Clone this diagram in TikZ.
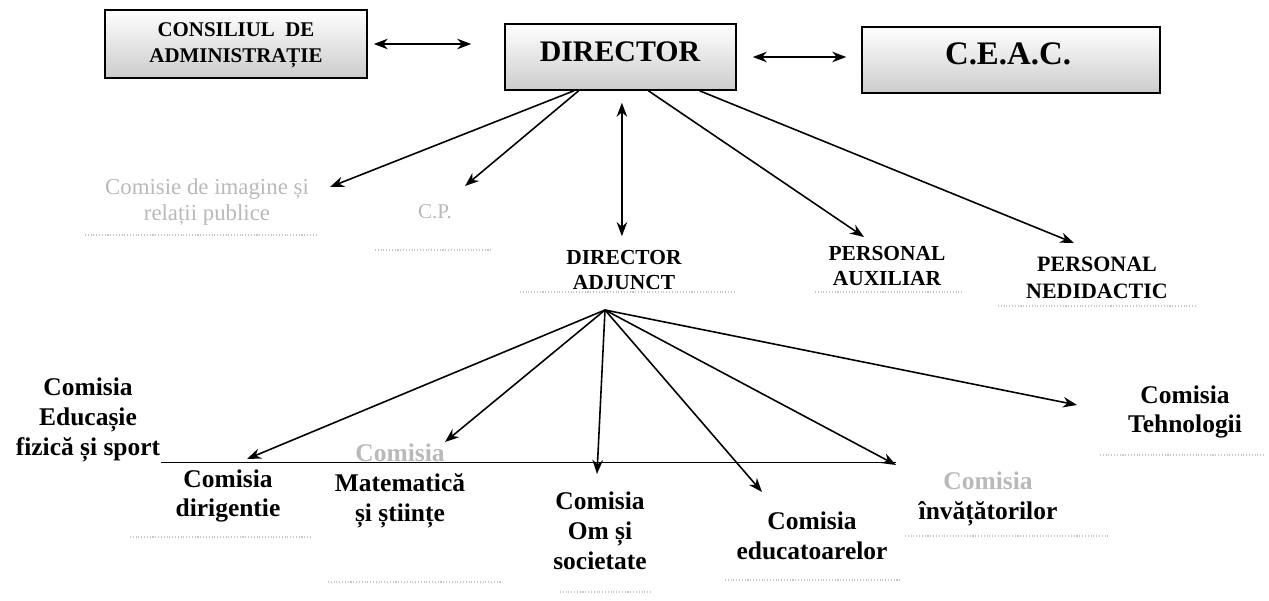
\documentclass[tikz,border=0pt]{standalone}
\usepackage{fontspec}
\setmainfont{Liberation Serif}
\usetikzlibrary{arrows.meta,calc}

\tikzset{
  box/.style={draw,line width=0.9pt,top color=white,middle color=white,bottom color=gray!40,inner sep=0pt},
  link/.style={line width=0.9pt,-{Stealth[length=8pt,width=6pt]}},
  dlink/.style={line width=0.9pt,{Stealth[length=8pt,width=6pt]}-{Stealth[length=8pt,width=6pt]}},
  underl/.style={gray!45,line width=0.6pt,densely dotted},
  pale/.style={text=gray!55},
  upper/.style={align=center,inner sep=0pt,font=\bfseries\fontsize{12.2}{14}\selectfont},
  lower/.style={align=center,inner sep=0pt,font=\bfseries\fontsize{14.5}{17}\selectfont},
}

\begin{document}
\begin{tikzpicture}[x=0.02cm,y=-0.02cm]
  \useasboundingbox (0,0) rectangle (1269,601);

  % first row
  \node[box,minimum width=5.24cm,minimum height=1.36cm] (cons) at (236,44) {};
  \node[upper,font=\bfseries\fontsize{11.9}{14.7}\selectfont] (consT) at (236,45) {CONSILIUL\ \ DE\\ADMINISTRAȚIE};
  \node[box,minimum width=4.62cm,minimum height=1.32cm] (dir) at (620.5,57) {};
  \node[upper,font=\bfseries\fontsize{17}{20}\selectfont] (dirT) at (620,52) {DIRECTOR};
  \node[box,minimum width=5.96cm,minimum height=1.32cm] (ceac) at (1011,60) {};
  \node[upper,font=\bfseries\fontsize{18.7}{22}\selectfont] (ceacT) at (1008,54) {C.E.A.C.};

  \draw[dlink,shorten <=0.12cm,shorten >=0.66cm] (cons.east) -- (cons.east -| dir.west);
  \draw[dlink,shorten <=0.32cm,shorten >=0.3cm] (dir.east) -- (dir.east -| ceac.west);

  % second row
  \node[upper,pale,font=\fontsize{13}{14.5}\selectfont] (imag) at (207,202) {Comisie de imagine și\\relații publice};
  \node[upper,pale,font=\fontsize{12}{14}\selectfont] (cp) at (435,212) {C.P.};
  \node[upper] (adj) at (624,270) {DIRECTOR\\ADJUNCT};
  \node[upper] (aux) at (887,266) {PERSONAL\\AUXILIAR};
  \node[upper,font=\bfseries\fontsize{12.5}{15}\selectfont] (nedid) at (1097,278) {PERSONAL\\NEDIDACTIC};

  \draw[underl] (85,235) -- (317,235);
  \draw[underl] (375,250) -- (493,250);
  \draw[underl] (520,292) -- (735,292);
  \draw[underl] (815,292) -- (962,292);
  \draw[underl] (998,306) -- (1197,306);

  \coordinate (d1) at ($(dir.south west)!0.30!(dir.south east)$);
  \coordinate (d2) at ($(dir.south west)!0.32!(dir.south east)$);
  \coordinate (d3) at ($(dir.south west)!0.506!(dir.south east)$);
  \coordinate (d4) at ($(dir.south west)!0.62!(dir.south east)$);
  \coordinate (d5) at ($(dir.south west)!0.84!(dir.south east)$);
  \coordinate (imagTip) at (330,187);
  \coordinate (cpTip) at (465,186);
  \coordinate (auxTip) at (864,237);
  \coordinate (nedidTip) at (1074,243);

  \draw[link] (d1) -- (imagTip);
  \draw[link] (d2) -- (cpTip);
  \draw[dlink,shorten <=0.24cm,shorten >=0.28cm] (d3) -- (d3 |- adj.north);
  \draw[link] (d4) -- (auxTip);
  \draw[link] (d5) -- (nedidTip);

  % third row
  \node[lower] (sport) at (88,420) {Comisia\\Educașie\\fizică și sport};
  \node[lower] (dirig) at (228,496) {Comisia\\dirigentie};
  \node[lower] (mate) at (400,486) {\textcolor{gray!55}{Comisia}\\Matematică\\și științe};
  \node[lower] (om) at (600,531) {Comisia\\Om și\\societate};
  \node[lower] (educ) at (812,536) {Comisia\\educatoarelor};
  \node[lower] (inv) at (988,499) {\textcolor{gray!55}{Comisia}\\învățătorilor};
  \node[lower] (tehno) at (1185,412) {Comisia\\Tehnologii};

  \draw[underl] (130,537) -- (310,537);
  \draw[underl] (328,582) -- (502,582);
  \draw[underl] (560,592) -- (650,592);
  \draw[underl] (725,580) -- (900,580);
  \draw[underl] (905,536) -- (1110,536);
  \draw[underl] (1100,455) -- (1265,455);

  \coordinate (a0) at (605,310);
  \coordinate (sportTip) at (247,459);
  \coordinate (mateTip) at (445,442);
  \coordinate (omTip) at (597,474);
  \coordinate (educTip) at (762,492);
  \coordinate (invTip) at (896,465);
  \coordinate (tehnoTip) at (1077,405);

  \draw[line width=0.9pt] (sport.south east) -- (sport.south east -| invTip);

  \draw[link] (a0) -- (sportTip);
  \draw[link] (a0) -- (mateTip);
  \draw[link] (a0) -- (omTip);
  \draw[link] (a0) -- (educTip);
  \draw[link] (a0) -- (invTip);
  \draw[link] (a0) -- (tehnoTip);
\end{tikzpicture}
\end{document}
